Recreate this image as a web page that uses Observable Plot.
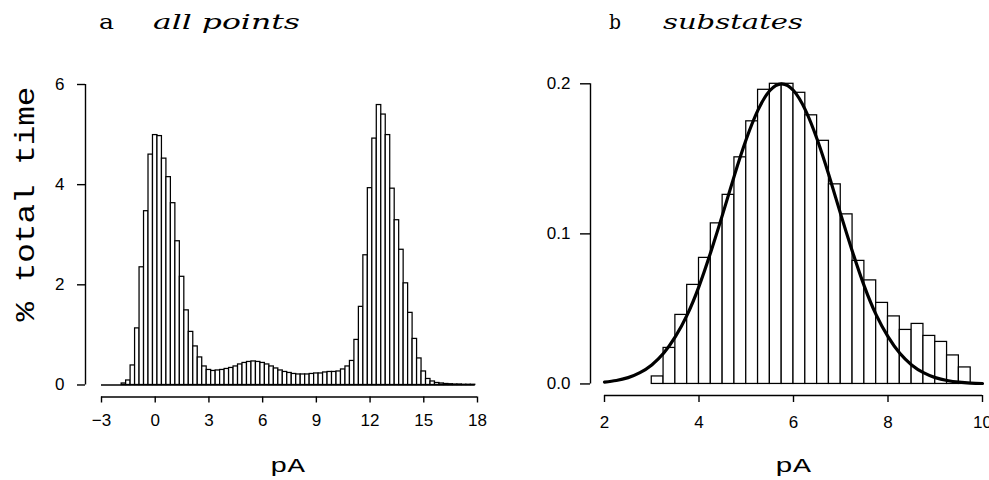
<!DOCTYPE html>
<html>
<head>
<meta charset="utf-8">
<script src="https://cdn.jsdelivr.net/npm/d3@7"></script>
<script src="https://cdn.jsdelivr.net/npm/@observablehq/plot@0.6"></script>
<style>
  html, body { margin: 0; padding: 0; background: #fff; }
  #wrap { position: relative; width: 989px; height: 480px; overflow: hidden; background: #fff; }
  #wrap > svg { position: absolute; top: 0; }
  #wrap svg.histplot text { font-size: 17px; font-family: 'Liberation Sans', Arial, sans-serif; }
</style>
</head>
<body>
<div id="wrap"></div>
<script>
// ---------- Panel a : all points ----------
const xTicksA = [-3, 0, 3, 6, 9, 12, 15, 18];
const yTicksA = [0, 2, 4, 6];
const binWidthA = 0.25;
const binCentersA = [
  -1.75, -1.5, -1.25, -1.0, -0.75, -0.5, -0.25, 0.0, 0.25, 0.5, 0.75, 1.0, 1.25, 1.5, 1.75,
  2.0, 2.25, 2.5, 2.75, 3.0, 3.25, 3.5, 3.75, 4.0, 4.25, 4.5, 4.75, 5.0, 5.25, 5.5, 5.75,
  6.0, 6.25, 6.5, 6.75, 7.0, 7.25, 7.5, 7.75, 8.0, 8.25, 8.5, 8.75, 9.0, 9.25, 9.5, 9.75,
  10.0, 10.25, 10.5, 10.75, 11.0, 11.25, 11.5, 11.75, 12.0, 12.25, 12.5, 12.75, 13.0, 13.25,
  13.5, 13.75, 14.0, 14.25, 14.5, 14.75, 15.0, 15.25, 15.5, 15.75, 16.0, 16.25, 16.5, 16.75,
  17.0, 17.25, 17.5, 17.75
];
const percentA = [
  0.03, 0.09, 0.39, 1.13, 2.35, 3.47, 4.60, 4.99, 4.97, 4.52, 4.15, 3.63, 2.87, 2.16, 1.49,
  1.06, 0.77, 0.55, 0.37, 0.30, 0.28, 0.29, 0.30, 0.32, 0.34, 0.37, 0.41, 0.44, 0.46, 0.47, 0.46,
  0.44, 0.41, 0.37, 0.33, 0.29, 0.26, 0.24, 0.22, 0.21, 0.21, 0.21, 0.22, 0.23, 0.23, 0.25, 0.26,
  0.26, 0.27, 0.31, 0.37, 0.48, 0.90, 1.56, 2.59, 3.93, 4.92, 5.59, 5.40, 4.99, 3.92,
  3.29, 2.70, 2.03, 1.44, 0.92, 0.53, 0.27, 0.12, 0.07, 0.04, 0.03, 0.02, 0.015, 0.01,
  0.01, 0.005, 0.005, 0.005
];

// ---------- Panel b : substates ----------
const xTicksB = [2, 4, 6, 8, 10];
const yTicksB = [0.0, 0.1, 0.2];
const binWidthB = 0.25;
const binStartsB = [
  3.0, 3.25, 3.5, 3.75, 4.0, 4.25, 4.5, 4.75, 5.0, 5.25, 5.5, 5.75, 6.0, 6.25,
  6.5, 6.75, 7.0, 7.25, 7.5, 7.75, 8.0, 8.25, 8.5, 8.75, 9.0, 9.25, 9.5
];
const fractionB = [
  0.005, 0.024, 0.046, 0.066, 0.084, 0.107, 0.126, 0.151, 0.175, 0.196, 0.200, 0.200, 0.194, 0.179,
  0.162, 0.133, 0.113, 0.082, 0.069, 0.054, 0.045, 0.036, 0.040, 0.032, 0.028, 0.019, 0.011
];
const fitX = [
  2.0, 2.25, 2.5, 2.75, 3.0, 3.25, 3.5, 3.75, 4.0, 4.25, 4.5, 4.75, 5.0, 5.25, 5.5, 5.75,
  6.0, 6.25, 6.5, 6.75, 7.0, 7.25, 7.5, 7.75, 8.0, 8.25, 8.5, 8.75, 9.0, 9.25, 9.5, 9.75, 10.0
];
const fitY = [
  0.0012, 0.0023, 0.0042, 0.0075, 0.0127, 0.0204, 0.0315, 0.046, 0.065, 0.088, 0.113, 0.139,
  0.163, 0.1826, 0.1955, 0.200, 0.1955, 0.1826, 0.163, 0.139, 0.113, 0.088, 0.065, 0.046,
  0.0315, 0.0204, 0.0127, 0.0075, 0.0042, 0.0023, 0.0012, 0.0006, 0.0003
];

// ---------- build tables ----------
const barsA = binCentersA.map((c, i) => ({x1: c - binWidthA / 2, x2: c + binWidthA / 2, v: percentA[i]}));
const barsB = binStartsB.map((s, i) => ({x1: s, x2: s + binWidthB, v: fractionB[i]}));
const fitB = fitX.map((x, i) => ({x, y: fitY[i]}));

const wrap = document.getElementById("wrap");
const sans = "'Liberation Sans', Arial, sans-serif";
const tickStyle = {fontFamily: sans, fontSize: "17px", color: "#000", background: "transparent", overflow: "visible"};

// Panel a
const xDomA = [-3.894, 18];
const yDomA = [-0.24, 6];
const plotA = Plot.plot({
  width: 500, height: 480,
  marginLeft: 85, marginRight: 23, marginTop: 84, marginBottom: 83.5,
  className: "histplot",
  x: {domain: xDomA},
  y: {domain: yDomA},
  style: tickStyle,
  marks: [
    Plot.ruleY([0], {x1: xTicksA[0], x2: binCentersA[binCentersA.length - 1] + binWidthA / 2, stroke: "#000", strokeWidth: 1.4}),
    Plot.rect(barsA, {x1: "x1", x2: "x2", y1: 0, y2: "v", fill: "#fff", stroke: "#000", strokeWidth: 1.25}),
    Plot.ruleY([yDomA[0]], {x1: xTicksA[0], x2: xTicksA[xTicksA.length - 1], stroke: "#000", strokeWidth: 1.4}),
    Plot.ruleX([xDomA[0]], {y1: yTicksA[0], y2: yTicksA[yTicksA.length - 1], stroke: "#000", strokeWidth: 1.4}),
    Plot.axisX({ticks: xTicksA, anchor: "bottom", tickSize: 6, tickPadding: 11, strokeWidth: 1.4, label: null,
      tickFormat: d => (d < 0 ? "\u2212" + Math.abs(d) : String(d))}),
    Plot.axisY({ticks: yTicksA, anchor: "left", tickSize: 8, tickPadding: 13, strokeWidth: 1.4, label: null,
      tickFormat: d => String(d)})
  ]
});
plotA.style.left = "0px";
wrap.appendChild(plotA);

// Panel b
const xDomB = [1.7037, 10];
const yDomB = [-0.0077, 0.2];
const plotB = Plot.plot({
  width: 495, height: 480,
  marginLeft: 96, marginRight: 7, marginTop: 83.3, marginBottom: 85,
  className: "histplot",
  x: {domain: xDomB},
  y: {domain: yDomB},
  style: tickStyle,
  marks: [
    Plot.rect(barsB, {x1: "x1", x2: "x2", y1: 0, y2: "v", fill: "#fff", stroke: "#000", strokeWidth: 1.25}),
    Plot.line(fitB, {x: "x", y: "y", curve: "natural", stroke: "#000", strokeWidth: 3.2}),
    Plot.ruleY([yDomB[0]], {x1: xTicksB[0], x2: xTicksB[xTicksB.length - 1], stroke: "#000", strokeWidth: 1.4}),
    Plot.ruleX([xDomB[0]], {y1: yTicksB[0], y2: yTicksB[yTicksB.length - 1], stroke: "#000", strokeWidth: 1.4}),
    Plot.axisX({ticks: xTicksB, anchor: "bottom", tickSize: 7, tickPadding: 13, strokeWidth: 1.4, label: null,
      tickFormat: d => String(d)}),
    Plot.axisY({ticks: yTicksB, anchor: "left", tickSize: 10, tickPadding: 10, strokeWidth: 1.4, label: null,
      tickFormat: d3.format(".1f")})
  ]
});
plotB.style.left = "494px";
wrap.appendChild(plotB);

// ---------- text overlay (titles and axis labels) ----------
const NS = "http://www.w3.org/2000/svg";
const ov = document.createElementNS(NS, "svg");
ov.setAttribute("width", 989);
ov.setAttribute("height", 480);
ov.style.left = "0px";
ov.style.pointerEvents = "none";
wrap.appendChild(ov);

function label(str, o) {
  const g = document.createElementNS(NS, "g");
  g.setAttribute("transform", `translate(${o.x},${o.y})` + (o.rotate ? ` rotate(${o.rotate})` : ""));
  const t = document.createElementNS(NS, "text");
  t.textContent = str;
  t.setAttribute("font-family", o.family);
  t.setAttribute("font-size", o.size);
  if (o.italic) t.setAttribute("font-style", "italic");
  t.setAttribute("text-anchor", o.anchor || "start");
  t.setAttribute("fill", "#000");
  g.appendChild(t);
  ov.appendChild(g);
  if (o.width) {
    const w = t.getComputedTextLength();
    if (w > 0) t.setAttribute("transform", `scale(${o.width / w},1)`);
  }
}

const serif = "'DejaVu Serif', 'Liberation Serif', serif";
const mono = "'Liberation Mono', 'DejaVu Sans Mono', monospace";

label("a", {x: 99, y: 28.5, size: 21, family: serif, width: 15});
label("all points", {x: 153, y: 28.5, size: 21, family: serif, italic: true, width: 147});
label("b", {x: 609, y: 28.5, size: 21, family: serif, width: 12});
label("substates", {x: 663, y: 28.5, size: 21, family: serif, italic: true, width: 140});

label("% total time", {x: 33.5, y: 204, rotate: -90, size: 27, family: mono, anchor: "middle", width: 235});
label("pA", {x: 287.5, y: 472, size: 21, family: mono, anchor: "middle", width: 35});
label("pA", {x: 793, y: 472, size: 21, family: mono, anchor: "middle", width: 36});
</script>
</body>
</html>
